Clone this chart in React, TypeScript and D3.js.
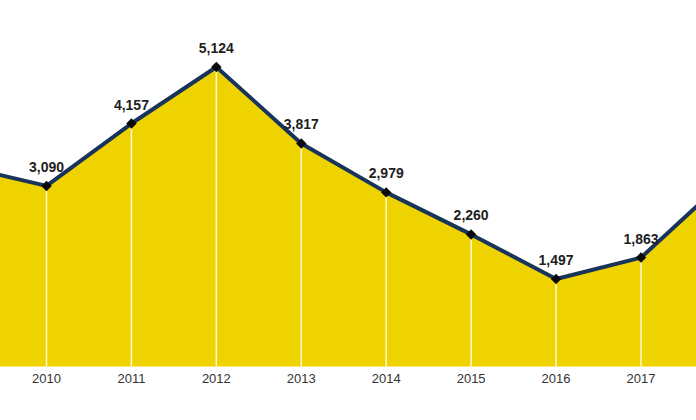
import React, { useEffect, useRef } from "react";
import * as d3 from "d3";

const years = [2009, 2010, 2011, 2012, 2013, 2014, 2015, 2016, 2017, 2018];
const values = [3430, 3090, 4157, 5124, 3817, 2979, 2260, 1497, 1863, 3200];
// the first and last years run past the picture's edges
const shownLabels = [false, true, true, true, true, true, true, true, true, false];

const width = 696;
const height = 420;

const App: React.FC = () => {
  const ref: any = useRef();

  useEffect(() => {
    const svg = d3.select(ref.current);
    svg.selectAll("*").remove();

    const x = d3.scaleLinear().domain([2010, 2017]).range([46.5, 641]);
    const y = d3.scaleLinear().domain([0, 5124]).range([366.5, 67]);

    const data = years.map((yr, i) => ({ yr, v: values[i], show: shownLabels[i] }));

    const area: any = d3
      .area()
      .x((d: any) => x(d.yr))
      .y0(y(0))
      .y1((d: any) => y(d.v));
    const line: any = d3
      .line()
      .x((d: any) => x(d.yr))
      .y((d: any) => y(d.v));

    svg.append("path").datum(data).attr("fill", "#efd300").attr("d", area);

    // white drop lines
    svg
      .selectAll(".drop")
      .data(data)
      .enter()
      .append("line")
      .attr("x1", (d: any) => x(d.yr))
      .attr("x2", (d: any) => x(d.yr))
      .attr("y1", (d: any) => y(d.v))
      .attr("y2", y(0))
      .attr("stroke", "#fff8d0")
      .attr("stroke-width", 1.5);

    svg
      .append("path")
      .datum(data)
      .attr("fill", "none")
      .attr("stroke", "#18345a")
      .attr("stroke-width", 4)
      .attr("stroke-linejoin", "round")
      .attr("d", line);

    svg
      .selectAll(".marker")
      .data(data)
      .enter()
      .append("path")
      .attr("d", d3.symbol(d3.symbolDiamond2, 70) as any)
      .attr("transform", (d: any) => `translate(${x(d.yr)},${y(d.v)})`)
      .attr("fill", "#0a0a0a");

    const shown = data.filter((d) => d.show);

    svg
      .selectAll(".val")
      .data(shown)
      .enter()
      .append("text")
      .attr("x", (d: any) => x(d.yr))
      .attr("y", (d: any) => y(d.v) - 14)
      .attr("text-anchor", "middle")
      .attr("font-family", "Liberation Sans, Arial, sans-serif")
      .attr("font-size", 14)
      .attr("font-weight", "bold")
      .attr("fill", "#1e1e1e")
      .text((d: any) => d3.format(",")(d.v));

    svg
      .selectAll(".yr")
      .data(shown)
      .enter()
      .append("text")
      .attr("x", (d: any) => x(d.yr))
      .attr("y", 382.5)
      .attr("text-anchor", "middle")
      .attr("font-family", "Liberation Sans, Arial, sans-serif")
      .attr("font-size", 13)
      .attr("fill", "#333")
      .text((d: any) => d.yr);
  }, []);

  return (
    <svg
      ref={ref}
      width={width}
      height={height}
      style={{ position: "absolute", left: 0, top: 0, background: "#fff" }}
    />
  );
};

export default App;
